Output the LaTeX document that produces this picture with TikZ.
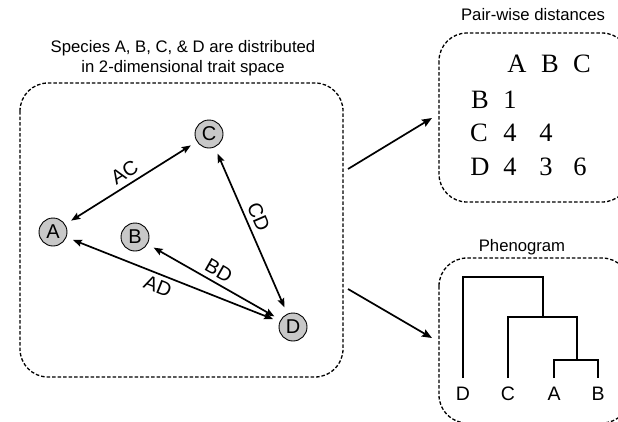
\documentclass[tikz,border=0pt]{standalone}
\usepackage{fontspec}
\setmainfont{Liberation Serif}
\setsansfont{Liberation Sans}
\usetikzlibrary{arrows.meta}
\definecolor{nodegray}{RGB}{200,200,200}
\begin{document}
\begin{tikzpicture}[x=1pt,y=-1pt,
  sp/.style={circle, draw, line width=0.9pt, fill=nodegray, minimum size=28pt, inner sep=0pt,
    font=\sffamily\fontsize{20}{22}\selectfont},
  dbox/.style={draw, dash pattern=on 3.5pt off 2pt, line width=1.3pt, rounded corners=28pt},
  link/.style={{Stealth[length=9pt,width=7pt,inset=1.5pt]}-{Stealth[length=9pt,width=7pt,inset=1.5pt]},
    line width=1.7pt, shorten <=7pt, shorten >=7pt},
  flow/.style={-{Stealth[length=10pt,width=8pt,inset=1.5pt]}, line width=1.7pt},
  lbl/.style={sloped, inner sep=1.5pt, font=\sffamily\fontsize{20}{22}\selectfont},
  ttl/.style={align=center, font=\sffamily\fontsize{16.7}{20}\selectfont},
  tab/.style={font=\fontsize{26.5}{30}\selectfont, inner sep=0pt},
  leaf/.style={font=\sffamily\fontsize{19.5}{22}\selectfont, inner sep=0pt},
  tree/.style={line width=2.3pt}
]
\useasboundingbox (0,0) rectangle (618,421);

% boxes
\draw[dbox] (20,83) rectangle (343,377);
\draw[dbox] (439,33) rectangle (630,202);
\draw[dbox] (439,258) rectangle (630,423);

% titles
\node[ttl] (t1) at (183,58) {Species A, B, C, \& D are distributed\\in 2-dimensional trait space};
\node[ttl] (t2) at (533,15) {Pair-wise distances};
\node[ttl] (t3) at (522,247) {Phenogram};

% species
\node[sp] (A) at (53,232) {A};
\node[sp] (B) at (135,237) {B};
\node[sp] (C) at (209,134) {C};
\node[sp] (D) at (293,327) {D};

\draw[link] (A) -- node[lbl, above=3pt, pos=0.5] {AC} (C);
\draw[link] (C) -- node[lbl, above=3pt, pos=0.45] {CD} (D);
\draw[link] (B) -- node[lbl, above=3pt, pos=0.49] {BD} (D);
\draw[link] (A) -- node[lbl, below=3pt, pos=0.45] {AD} (D);

% arrows to the right boxes
\coordinate (s1) at (348,169);
\coordinate (e1) at (432,118);
\coordinate (s2) at (348,289);
\coordinate (e2) at (432,338);
\draw[flow] (s1) -- (e1);
\draw[flow] (s2) -- (e2);

% distance table
\node[tab] (hA) at (517,64) {A};
\node[tab] (hB) at (550,64) {B};
\node[tab] (hC) at (582,64) {C};
\node[tab] (rB) at (480,100) {B};
\node[tab] (rC) at (479,133) {C};
\node[tab] (rD) at (480,167) {D};
\node[tab] (vBA) at (510,100) {1};
\node[tab] (vCA) at (510,133) {4};
\node[tab] (vCB) at (546,133) {4};
\node[tab] (vDA) at (510,167) {4};
\node[tab] (vDB) at (546,167) {3};
\node[tab] (vDC) at (580,167) {6};

% phenogram
\node[leaf] (lD) at (463,394) {D};
\node[leaf] (lC) at (508,394) {C};
\node[leaf] (lA) at (554,394) {A};
\node[leaf] (lB) at (598,394) {B};
\coordinate (root) at (543,277);
\coordinate (nABC) at (577,317);
\coordinate (nAB) at (576,360);
\draw[tree] (463,378) |- (root) -- (543,317);
\draw[tree] (508,378) |- (nABC) -- (577,360);
\draw[tree] (554,378) |- (nAB) -| (598,378);
\draw[tree] (509,317) -- (543,317);
\end{tikzpicture}
\end{document}
